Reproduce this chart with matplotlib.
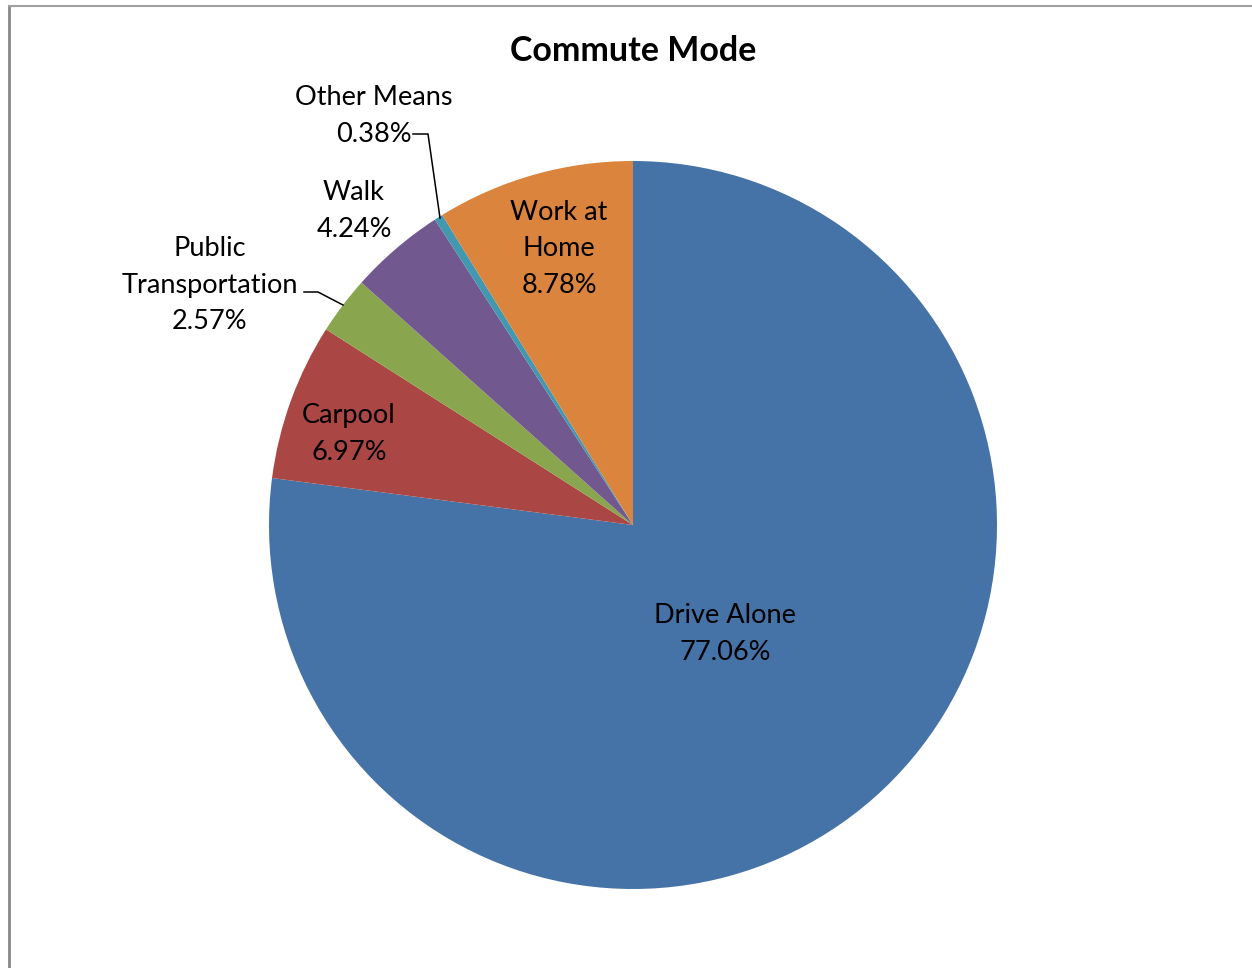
"""Commute mode pie chart."""
import matplotlib.pyplot as plt
import numpy as np

modes = ["Drive Alone", "Carpool", "Public\nTransportation", "Walk", "Other Means", "Work at\nHome"]
shares = [77.06, 6.97, 2.57, 4.24, 0.38, 8.78]
colors = ["#4572A7", "#AA4643", "#89A54E", "#71588F", "#4198AF", "#DB843D"]

W, H = 1252, 968
plt.rcParams["font.family"] = ["Lato", "DejaVu Sans"]

fig = plt.figure(figsize=(W / 100, H / 100), dpi=100)
ax = fig.add_axes([0, 0, 1, 1])

cx, cy, r = 633, H - 525, 364
wedges, _ = ax.pie(shares, colors=colors, startangle=90, counterclock=False,
                   center=(cx, cy), radius=r, frame=True,
                   wedgeprops=dict(linewidth=0))
ax.set_xlim(0, W)
ax.set_ylim(0, H)
ax.set_aspect("equal")
ax.axis("off")

# label placement (pixel coords of text centre, top-origin)
label_pos = [(725, 634), (349, 434), (210, 285), (354, 211), (374, 116), (559, 249)]
for name, val, (px, py) in zip(modes, shares, label_pos):
    ax.text(px, H - py, f"{name}\n{val:.2f}%", ha="center", va="center",
            fontsize=19.5, linespacing=1.56, color="black")

# leader lines for the small outside labels
def leader(points):
    xs = [p[0] for p in points]
    ys = [H - p[1] for p in points]
    ax.plot(xs, ys, color="black", lw=1.1)

leader([(413, 134), (428, 134), (440, 218)])
leader([(304, 292), (318, 292), (343, 305)])

fig.text(633 / W, 1 - 51 / H, "Commute Mode", ha="center", va="center",
         fontsize=24.5, fontweight="bold")

# chart frame (cropped at right/bottom)
fig.add_artist(plt.Line2D([8.5 / W, 8.5 / W], [0, 1 - 6 / H], color="#888888", lw=2))
fig.add_artist(plt.Line2D([8.5 / W, 1], [1 - 6 / H, 1 - 6 / H], color="#a0a0a0", lw=1.5))

fig.savefig("out.png", dpi=100)
